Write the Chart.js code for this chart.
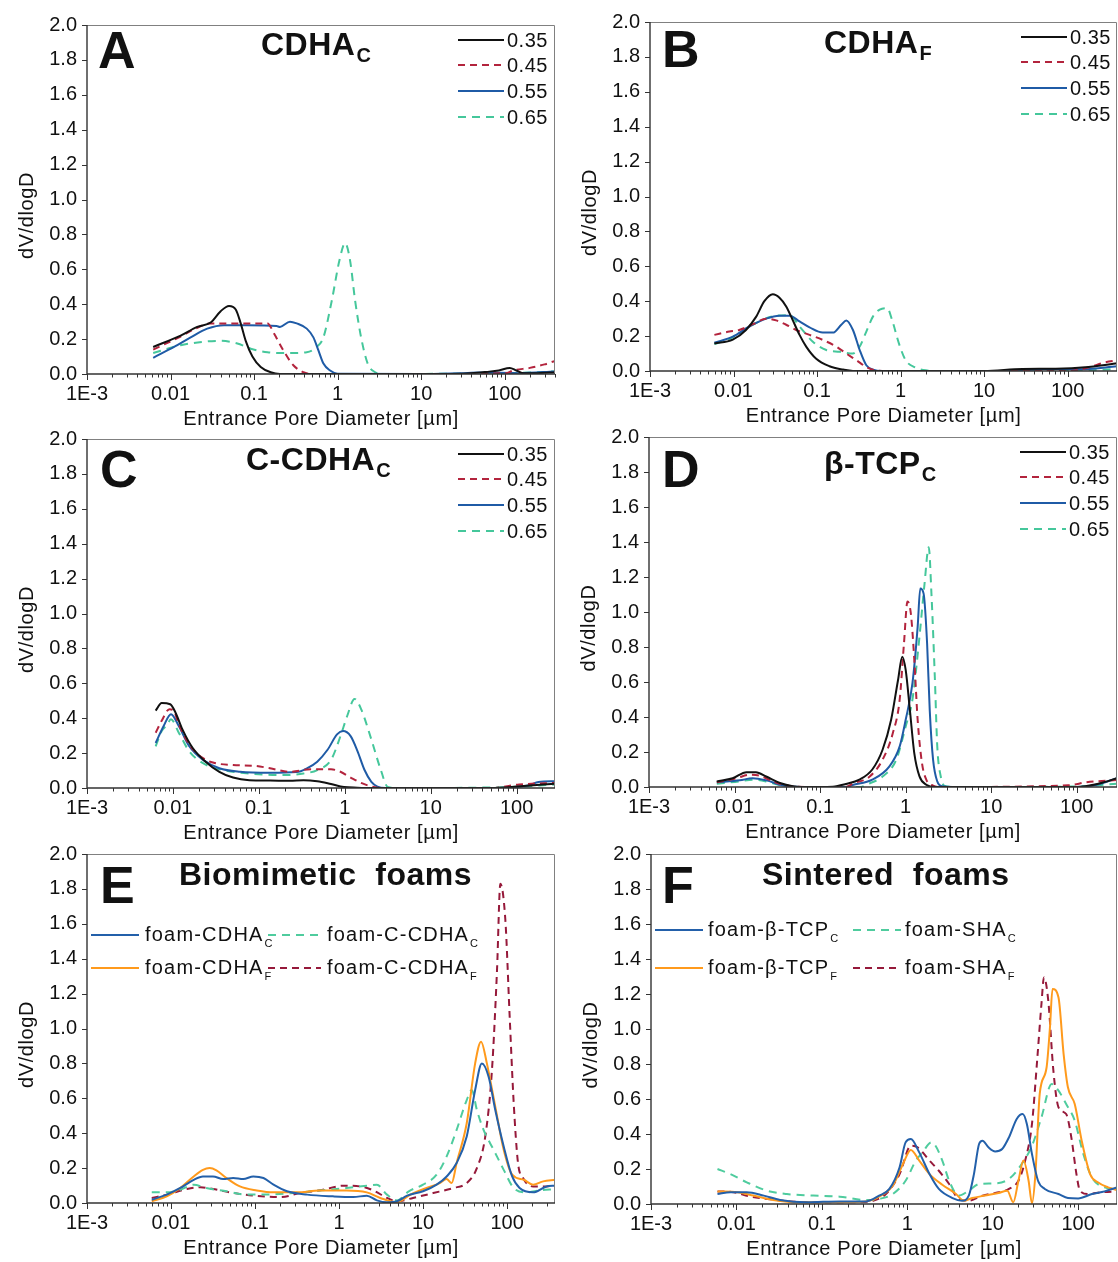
<!DOCTYPE html>
<html>
<head>
<meta charset="utf-8">
<script src="https://cdn.jsdelivr.net/npm/chart.js@4.4.1/dist/chart.umd.min.js"></script>
<style>
  body { margin: 0; background: #fff; }
  #wrap { position: relative; width: 1118px; height: 1262px; overflow: hidden; background: #fff; }
  #wrap canvas { position: absolute; }
</style>
</head>
<body>
<div id="wrap"></div>
<script>
// x axis: entrance pore diameter (um), log scale
const xTicks = [0.001, 0.01, 0.1, 1, 10, 100];
const xTickLabels = ['1E-3', '0.01', '0.1', '1', '10', '100'];
const yTicks = [0, 0.2, 0.4, 0.6, 0.8, 1.0, 1.2, 1.4, 1.6, 1.8, 2.0];

// liquid to powder ratios (panels A-D)
const ratioLabels = ['0.35', '0.45', '0.55', '0.65'];

// [diameter, dV/dlogD]
// A - CDHA_C
const a035 = [[0.0062,0.155],[0.0132,0.22],[0.0209,0.27],[0.0302,0.295],[0.0398,0.36],[0.0501,0.39],[0.0603,0.37],[0.0692,0.29],[0.0794,0.19],[0.0955,0.10],[0.12,0.04],[0.158,0.01],[0.204,0],[1,0],[10,0],[40,0.005],[60,0.012],[85,0.02],[115,0.035],[138,0.02],[170,0.004],[250,0.005],[400,0.01]];
const a045 = [[0.0062,0.14],[0.0132,0.215],[0.0209,0.265],[0.0302,0.29],[0.0417,0.29],[0.0603,0.29],[0.0955,0.29],[0.145,0.29],[0.174,0.23],[0.224,0.135],[0.295,0.05],[0.389,0.01],[0.5,0],[10,0],[105,0.005],[126,0.02],[200,0.035],[300,0.055],[400,0.075]];
const a055 = [[0.0062,0.093],[0.011,0.155],[0.0174,0.21],[0.0275,0.26],[0.0437,0.28],[0.0832,0.28],[0.186,0.275],[0.204,0.27],[0.269,0.30],[0.324,0.29],[0.427,0.26],[0.513,0.21],[0.589,0.135],[0.676,0.06],[0.813,0.02],[1.0,0.002],[10,0],[30,0.005],[50,0.008],[150,0.005],[400,0.015]];
const a065 = [[0.0062,0.12],[0.0132,0.165],[0.0251,0.185],[0.0398,0.19],[0.0631,0.175],[0.0912,0.145],[0.145,0.125],[0.245,0.12],[0.427,0.125],[0.562,0.155],[0.676,0.21],[0.851,0.42],[1.05,0.65],[1.23,0.75],[1.41,0.65],[1.62,0.42],[1.91,0.21],[2.29,0.06],[2.82,0.01],[3.5,0],[50,0.003],[200,0.008],[400,0.015]];

// B - CDHA_F
const b035 = [[0.0059,0.158],[0.0098,0.18],[0.0141,0.235],[0.0186,0.31],[0.0234,0.40],[0.0295,0.44],[0.0355,0.42],[0.0427,0.37],[0.0513,0.29],[0.0617,0.207],[0.0741,0.14],[0.0977,0.07],[0.141,0.027],[0.204,0.008],[0.269,0],[10,0],[28.8,0.012],[72,0.013],[178,0.023],[339,0.04],[390,0.045]];
const b045 = [[0.0059,0.207],[0.0089,0.226],[0.0117,0.235],[0.0174,0.27],[0.0245,0.30],[0.0324,0.29],[0.0427,0.265],[0.0562,0.235],[0.0813,0.207],[0.117,0.178],[0.17,0.14],[0.224,0.10],[0.295,0.062],[0.389,0.023],[0.5,0.004],[0.7,0],[100,0],[178,0.02],[282,0.05],[390,0.06]];
const b055 = [[0.0059,0.162],[0.0098,0.197],[0.0155,0.255],[0.0245,0.30],[0.0355,0.317],[0.0468,0.317],[0.0617,0.284],[0.0813,0.25],[0.117,0.22],[0.155,0.22],[0.195,0.265],[0.224,0.29],[0.269,0.235],[0.324,0.12],[0.389,0.033],[0.468,0.008],[0.6,0],[20,0],[60,0.012],[150,0.01],[390,0.027]];
const b065 = [[0.0059,0.155],[0.0098,0.193],[0.017,0.265],[0.0295,0.313],[0.0468,0.32],[0.0617,0.255],[0.0891,0.168],[0.129,0.12],[0.186,0.11],[0.269,0.10],[0.324,0.14],[0.389,0.226],[0.468,0.313],[0.562,0.352],[0.692,0.36],[0.794,0.29],[0.955,0.158],[1.15,0.062],[1.51,0.02],[2.0,0.004],[3,0],[100,0],[390,0.012]];

// C - C-CDHA_C
const c035 = [[0.0063,0.443],[0.0074,0.487],[0.0093,0.48],[0.0107,0.433],[0.0129,0.336],[0.017,0.229],[0.024,0.151],[0.0347,0.093],[0.0501,0.06],[0.0776,0.045],[0.135,0.043],[0.229,0.041],[0.331,0.045],[0.479,0.039],[0.692,0.023],[0.977,0.006],[1.4,0.002],[2,0],[50,0],[110,0.01],[280,0.025]];
const c045 = [[0.0063,0.317],[0.0074,0.385],[0.0091,0.452],[0.0102,0.443],[0.0117,0.365],[0.0155,0.249],[0.0224,0.171],[0.0316,0.142],[0.0501,0.132],[0.0933,0.126],[0.135,0.113],[0.229,0.093],[0.398,0.107],[0.692,0.107],[0.891,0.093],[1.17,0.06],[1.55,0.029],[2.0,0.01],[2.6,0],[50,0],[107,0.02],[280,0.029]];
const c055 = [[0.0063,0.258],[0.0078,0.355],[0.0095,0.423],[0.0117,0.355],[0.0155,0.239],[0.0224,0.161],[0.0347,0.113],[0.0603,0.093],[0.135,0.087],[0.275,0.091],[0.363,0.113],[0.479,0.151],[0.631,0.219],[0.813,0.307],[0.955,0.326],[1.17,0.297],[1.41,0.21],[1.70,0.103],[2.04,0.035],[2.40,0.008],[3,0],[60,0],[140,0.016],[180,0.035],[280,0.039]];
const c065 = [[0.0063,0.239],[0.0074,0.326],[0.0085,0.36],[0.0095,0.394],[0.0117,0.317],[0.0155,0.21],[0.0224,0.142],[0.038,0.103],[0.0776,0.083],[0.195,0.074],[0.331,0.083],[0.479,0.103],[0.692,0.161],[0.891,0.297],[1.07,0.414],[1.30,0.51],[1.55,0.452],[2.04,0.278],[2.63,0.103],[3.16,0.006],[4,0],[80,0.005],[280,0.02]];

// D - beta-TCP_C
const d035 = [[0.0062,0.032],[0.0095,0.05],[0.0138,0.085],[0.0178,0.085],[0.0234,0.06],[0.0339,0.023],[0.0479,0.004],[0.06,0],[0.141,0.002],[0.2,0.017],[0.288,0.042],[0.407,0.10],[0.537,0.213],[0.676,0.384],[0.813,0.61],[0.912,0.745],[1.0,0.669],[1.12,0.44],[1.26,0.194],[1.45,0.061],[1.74,0.013],[2.2,0],[100,0],[182,0.02],[295,0.05]];
const d045 = [[0.0062,0.027],[0.0105,0.05],[0.0151,0.07],[0.0195,0.065],[0.0282,0.032],[0.0437,0.006],[0.07,0],[0.2,0],[0.24,0.019],[0.38,0.06],[0.537,0.156],[0.708,0.308],[0.851,0.50],[0.955,0.82],[1.05,1.06],[1.15,0.99],[1.26,0.73],[1.38,0.384],[1.55,0.137],[1.74,0.042],[2.09,0.008],[2.6,0],[80,0.01],[130,0.027],[295,0.04]];
const d055 = [[0.0062,0.027],[0.0115,0.038],[0.0162,0.05],[0.0234,0.038],[0.0363,0.01],[0.06,0],[0.2,0],[0.24,0.011],[0.407,0.042],[0.646,0.118],[0.851,0.232],[1.0,0.384],[1.20,0.593],[1.38,0.915],[1.48,1.134],[1.62,1.105],[1.78,0.82],[1.91,0.44],[2.09,0.156],[2.34,0.032],[2.69,0.004],[3.5,0],[100,0],[170,0.013],[295,0.05]];
const d065 = [[0.0062,0.019],[0.0115,0.032],[0.0162,0.042],[0.0234,0.032],[0.0363,0.008],[0.06,0],[0.3,0],[0.347,0.013],[0.537,0.06],[0.776,0.156],[1.0,0.346],[1.20,0.50],[1.45,0.86],[1.66,1.16],[1.86,1.37],[2.0,1.105],[2.19,0.63],[2.34,0.232],[2.57,0.06],[2.82,0.008],[4,0],[100,0.003],[295,0.019]];

// E - biomimetic foams
const foamLabelsE = ['foam-CDHA', 'foam-CDHA', 'foam-C-CDHA', 'foam-C-CDHA'];
const foamSubsE = ['C', 'F', 'C', 'F'];
const eCdhaC = [[0.0059,0.019],[0.0089,0.048],[0.0129,0.086],[0.0186,0.133],[0.024,0.152],[0.0316,0.152],[0.0417,0.137],[0.055,0.143],[0.0724,0.137],[0.0955,0.152],[0.126,0.143],[0.166,0.105],[0.24,0.067],[0.417,0.048],[0.851,0.038],[1.48,0.034],[2.14,0.042],[2.82,0.015],[3.72,0.004],[4.9,0.01],[6.46,0.042],[10,0.067],[14.5,0.105],[19.1,0.152],[25.1,0.229],[33.1,0.381],[41.7,0.648],[50.1,0.80],[60.3,0.724],[72.4,0.533],[91.2,0.324],[115,0.152],[141,0.086],[204,0.061],[295,0.095],[372,0.099]];
const eCdhaF = [[0.0059,0.01],[0.0089,0.038],[0.0129,0.086],[0.0186,0.152],[0.024,0.19],[0.0288,0.20],[0.0347,0.187],[0.0457,0.143],[0.0661,0.095],[0.105,0.072],[0.166,0.061],[0.316,0.061],[0.589,0.072],[1.23,0.072],[2.14,0.061],[3.09,0.029],[4.9,0.004],[7.08,0.048],[11,0.086],[15.8,0.114],[19.1,0.137],[21.9,0.114],[25.1,0.229],[33.1,0.457],[41.7,0.80],[49,0.924],[57.5,0.80],[72.4,0.552],[91.2,0.305],[115,0.162],[158,0.133],[204,0.105],[269,0.124],[372,0.133]];
const eCCdhaC = [[0.0059,0.061],[0.0089,0.061],[0.0129,0.076],[0.0186,0.105],[0.0263,0.086],[0.0457,0.067],[0.0794,0.048],[0.135,0.048],[0.288,0.057],[0.589,0.072],[1.23,0.086],[2.14,0.099],[2.82,0.105],[3.72,0.048],[4.9,0.015],[6.76,0.067],[10,0.105],[14.5,0.162],[19.1,0.267],[25.1,0.419],[33.1,0.59],[38,0.648],[43.7,0.533],[52.5,0.419],[69.2,0.305],[91.2,0.19],[120,0.086],[170,0.061],[245,0.072],[372,0.08]];
const eCCdhaF = [[0.0059,0.029],[0.0089,0.048],[0.0155,0.08],[0.0224,0.09],[0.0316,0.08],[0.0501,0.061],[0.0955,0.042],[0.2,0.034],[0.347,0.057],[0.646,0.076],[1.12,0.099],[1.78,0.095],[2.57,0.072],[3.72,0.029],[4.9,0.01],[7.59,0.029],[13.2,0.057],[22.9,0.086],[33.1,0.114],[43.7,0.20],[55,0.381],[66.1,0.762],[75.9,1.333],[83.2,1.829],[95.5,1.619],[107,1.086],[120,0.571],[135,0.229],[155,0.143],[204,0.095],[295,0.095],[372,0.105]];

// F - sintered foams
const foamLabelsF = ['foam-\u03B2-TCP', 'foam-\u03B2-TCP', 'foam-SHA', 'foam-SHA'];
const foamSubsF = ['C', 'F', 'C', 'F'];
const fTcpC = [[0.006,0.057],[0.0085,0.067],[0.0132,0.067],[0.0209,0.048],[0.0324,0.023],[0.0661,0.01],[0.162,0.015],[0.331,0.015],[0.468,0.048],[0.617,0.086],[0.813,0.21],[0.955,0.352],[1.10,0.371],[1.38,0.295],[1.82,0.171],[2.34,0.086],[3.39,0.034],[4.37,0.019],[5.25,0.048],[6.03,0.171],[6.92,0.343],[7.59,0.362],[8.91,0.324],[10.7,0.30],[12.9,0.314],[15.5,0.381],[19.1,0.486],[22.4,0.514],[25.1,0.457],[28.8,0.286],[33.9,0.133],[40.7,0.086],[58.9,0.057],[75.9,0.034],[100,0.032],[145,0.057],[204,0.072],[285,0.095]];
const fTcpF = [[0.006,0.072],[0.0102,0.067],[0.0158,0.048],[0.0269,0.023],[0.055,0.01],[0.162,0.01],[0.331,0.015],[0.468,0.042],[0.676,0.105],[0.891,0.229],[1.10,0.309],[1.38,0.248],[1.82,0.171],[2.57,0.11],[3.72,0.057],[4.57,0.019],[5.75,0.034],[8.13,0.048],[11.7,0.063],[14.8,0.076],[17.4,0.01],[20,0.133],[22.9,0.248],[26.3,0.133],[28.8,0.004],[31.6,0.171],[35.5,0.629],[42.7,0.78],[46.8,1.01],[50.1,1.229],[58.9,1.18],[67.6,0.857],[75.9,0.667],[91.2,0.571],[110,0.362],[138,0.171],[170,0.124],[224,0.095],[285,0.08]];
const fShaC = [[0.006,0.20],[0.0085,0.171],[0.0132,0.124],[0.0229,0.076],[0.0389,0.057],[0.0794,0.048],[0.162,0.042],[0.331,0.023],[0.468,0.029],[0.676,0.057],[0.955,0.133],[1.26,0.248],[1.51,0.295],[1.91,0.352],[2.14,0.333],[2.57,0.248],[3.09,0.133],[3.98,0.048],[5.25,0.076],[6.92,0.114],[10.7,0.118],[15.5,0.143],[21.9,0.229],[28.8,0.333],[37.2,0.495],[49,0.686],[58.9,0.648],[72.4,0.571],[91.2,0.476],[115,0.286],[145,0.152],[204,0.095],[285,0.086]];
const fShaF = [[0.006,0.072],[0.0093,0.067],[0.0145,0.042],[0.0229,0.029],[0.0427,0.015],[0.105,0.01],[0.251,0.01],[0.398,0.019],[0.562,0.057],[0.813,0.171],[1.10,0.333],[1.32,0.324],[1.82,0.248],[2.34,0.19],[3.09,0.114],[3.98,0.029],[5.25,0.019],[7.59,0.048],[11.7,0.067],[15.5,0.086],[20,0.133],[24,0.248],[28.8,0.457],[33.1,0.819],[37.2,1.143],[39.8,1.295],[44.7,1.162],[51.3,0.762],[58.9,0.552],[72.4,0.514],[83.2,0.381],[95.5,0.171],[105,0.076],[132,0.057],[186,0.067],[285,0.072]];

const FONT = '"Liberation Sans", Arial, Helvetica, sans-serif';

// line styles
const ratioStyles = [
  { color: '#111111', dash: [] },
  { color: '#b3243d', dash: [7, 5] },
  { color: '#1f5ba6', dash: [] },
  { color: '#45c79b', dash: [8, 6] }
];
const foamStyles = [
  { color: '#2360aa', dash: [] },     // coarse, solid blue
  { color: '#ff9a1c', dash: [] },     // fine, solid orange
  { color: '#4fcc9e', dash: [8, 6] }, // green dashed
  { color: '#96193a', dash: [7, 5] }  // maroon dashed
];

// layout of each panel on the page (chart area is set through axis sizes)
const panels = [
  { letter: 'A', title: 'CDHA', sub: 'C', left: 0, top: 0, w: 559, h: 430, yAxisW: 87, padTop: 25, padRight: 4, xAxisH: 56, xMax: 400,
    titleX: 174, titleY: 30, letterX: 11, letterY: 43, series: [a035, a045, a055, a065] },
  { letter: 'B', title: 'CDHA', sub: 'F', left: 559, top: 0, w: 559, h: 430, yAxisW: 91, padTop: 22, padRight: 1, xAxisH: 59, xMax: 390,
    titleX: 174, titleY: 31, letterX: 12, letterY: 45, series: [b035, b045, b055, b065] },
  { letter: 'C', title: 'C-CDHA', sub: 'C', left: 0, top: 428, w: 559, h: 420, yAxisW: 87, padTop: 11, padRight: 4, xAxisH: 60, xMax: 280,
    titleX: 159, titleY: 31, letterX: 13, letterY: 48, series: [c035, c045, c055, c065] },
  { letter: 'D', title: '\u03B2-TCP', sub: 'C', left: 559, top: 428, w: 559, h: 420, yAxisW: 90, padTop: 9, padRight: 1, xAxisH: 61, xMax: 295,
    titleX: 175, titleY: 37, letterX: 13, letterY: 50, series: [d035, d045, d055, d065] },
  { letter: 'E', title: 'Biomimetic  foams', sub: '', left: 0, top: 846, w: 559, h: 416, yAxisW: 87, padTop: 8, padRight: 4, xAxisH: 59, xMax: 372,
    titleX: 92, titleY: 31, letterX: 13, letterY: 49, foam: true,
    series: [eCdhaC, eCdhaF, eCCdhaC, eCCdhaF], labels: foamLabelsE, subs: foamSubsE,
    rows: [81, 114], cols: [[4, 52, 58], [181, 234, 240]] },
  { letter: 'F', title: 'Sintered  foams', sub: '', left: 559, top: 846, w: 559, h: 416, yAxisW: 92, padTop: 8, padRight: 1, xAxisH: 58, xMax: 285,
    titleX: 111, titleY: 31, letterX: 11, letterY: 49, foam: true,
    series: [fTcpC, fTcpF, fShaC, fShaF], labels: foamLabelsF, subs: foamSubsF,
    rows: [76, 114], cols: [[4, 52, 57], [202, 250, 254]] }
];

function richText(ctx, x, y, main, sub, size, bold, subSize, subDy) {
  const b = bold ? 'bold ' : '';
  ctx.font = b + size + 'px ' + FONT;
  ctx.fillText(main, x, y);
  if (sub) {
    const w = ctx.measureText(main).width;
    ctx.font = b + subSize + 'px ' + FONT;
    ctx.fillText(sub, x + w + 1, y + subDy);
  }
}

function sampleLine(ctx, x1, x2, y, ds) {
  ctx.save();
  ctx.strokeStyle = ds.borderColor;
  ctx.lineWidth = 2;
  ctx.setLineDash(ds.borderDash || []);
  ctx.beginPath();
  ctx.moveTo(x1, y);
  ctx.lineTo(x2, y);
  ctx.stroke();
  ctx.restore();
}

function makeDecor(p) {
  return {
    id: 'panelDecor' + p.letter,
    afterDatasetsDraw(chart) {
      const { ctx, chartArea: ca, scales: { x, y } } = chart;
      ctx.save();

      // frame
      ctx.setLineDash([]);
      ctx.strokeStyle = '#808080';
      ctx.lineWidth = 1;
      ctx.beginPath();
      ctx.moveTo(ca.left, ca.top + 0.5);
      ctx.lineTo(ca.right - 0.5, ca.top + 0.5);
      ctx.lineTo(ca.right - 0.5, ca.bottom);
      ctx.stroke();
      ctx.strokeStyle = '#333';
      ctx.lineWidth = 1.4;
      ctx.beginPath();
      ctx.moveTo(ca.left, ca.top);
      ctx.lineTo(ca.left, ca.bottom);
      ctx.lineTo(ca.right, ca.bottom);
      ctx.stroke();

      // x ticks, major and minor
      ctx.lineWidth = 1;
      ctx.beginPath();
      for (let e = -3; e <= 2; e++) {
        for (let k = 1; k <= 9; k++) {
          const v = k * Math.pow(10, e);
          if (v > x.max * 1.0001) break;
          const px = Math.round(x.getPixelForValue(v)) + 0.5;
          const len = k === 1 ? 6 : 3.5;
          ctx.moveTo(px, ca.bottom);
          ctx.lineTo(px, ca.bottom + len);
        }
      }
      // y ticks
      y.ticks.forEach(t => {
        const py = Math.round(y.getPixelForValue(t.value)) + 0.5;
        ctx.moveTo(ca.left - 5, py);
        ctx.lineTo(ca.left, py);
      });
      ctx.stroke();

      ctx.fillStyle = '#111';
      ctx.textBaseline = 'alphabetic';
      ctx.textAlign = 'left';

      // panel letter and title
      ctx.font = 'bold 52px ' + FONT;
      ctx.fillText(p.letter, ca.left + p.letterX, ca.top + p.letterY);
      ctx.letterSpacing = '0.5px';
      richText(ctx, ca.left + p.titleX, ca.top + p.titleY, p.title, p.sub, 32, true, 20, 7);

      // legend
      const dsets = chart.data.datasets;
      if (!p.foam) {
        const rows = [15, 40, 66, 92];
        ctx.textBaseline = 'middle';
        ctx.letterSpacing = '0.5px';
        ctx.font = '20px ' + FONT;
        dsets.forEach((ds, i) => {
          const ly = ca.top + rows[i];
          sampleLine(ctx, ca.left + 371, ca.left + 417, ly, ds);
          ctx.fillStyle = '#111';
          ctx.fillText(ds.label, ca.left + 420, ly + 1);
        });
      } else {
        ctx.textBaseline = 'middle';
        ctx.letterSpacing = '1.2px';
        dsets.forEach((ds, i) => {
          const col = p.cols[i < 2 ? 0 : 1];
          const ly = ca.top + p.rows[i % 2];
          sampleLine(ctx, ca.left + col[0], ca.left + col[1], ly, ds);
          ctx.fillStyle = '#111';
          richText(ctx, ca.left + col[2], ly, p.labels[i], p.subs[i], 20, false, 11, 9);
        });
      }

      // axis titles
      ctx.fillStyle = '#111';
      ctx.font = '20px ' + FONT;
      ctx.letterSpacing = '0.6px';
      ctx.textAlign = 'center';
      ctx.textBaseline = 'middle';
      ctx.fillText('Entrance Pore Diameter [\u00B5m]', (ca.left + ca.right) / 2, ca.bottom + 45);
      ctx.save();
      ctx.translate(ca.left - 60, (ca.top + ca.bottom) / 2 + 16);
      ctx.rotate(-Math.PI / 2);
      ctx.fillText('dV/dlogD', 0, 0);
      ctx.restore();
      ctx.letterSpacing = '0px';

      ctx.restore();
    }
  };
}

const wrap = document.getElementById('wrap');

panels.forEach(p => {
  const canvas = document.createElement('canvas');
  canvas.width = p.w;
  canvas.height = p.h;
  canvas.style.left = p.left + 'px';
  canvas.style.top = p.top + 'px';
  canvas.style.width = p.w + 'px';
  canvas.style.height = p.h + 'px';
  wrap.appendChild(canvas);

  const styles = p.foam ? foamStyles : ratioStyles;
  const datasets = p.series.map((s, i) => ({
    label: p.foam ? p.labels[i] + p.subs[i] : ratioLabels[i],
    data: s.map(pt => ({ x: pt[0], y: pt[1] })),
    borderColor: styles[i].color,
    borderDash: styles[i].dash,
    borderWidth: 2,
    pointRadius: 0,
    fill: false,
    cubicInterpolationMode: 'monotone'
  }));

  new Chart(canvas, {
    type: 'line',
    data: { datasets },
    options: {
      responsive: false,
      animation: false,
      devicePixelRatio: 1,
      layout: { padding: { top: p.padTop, right: p.padRight, left: 0, bottom: 0 } },
      plugins: { legend: { display: false }, tooltip: { enabled: false } },
      scales: {
        x: {
          type: 'logarithmic',
          min: 0.001,
          max: p.xMax,
          afterBuildTicks: s => { s.ticks = xTicks.map(v => ({ value: v })); },
          afterFit: s => { s.height = p.xAxisH; s.paddingLeft = 0; s.paddingRight = 0; },
          grid: { display: false, drawTicks: false },
          border: { display: false },
          ticks: {
            autoSkip: false,
            maxRotation: 0,
            padding: 8,
            color: '#111',
            font: { family: FONT, size: 20 },
            callback: v => {
              const i = xTicks.findIndex(t => Math.abs(t - v) < t * 1e-6);
              return i >= 0 ? xTickLabels[i] : '';
            }
          }
        },
        y: {
          type: 'linear',
          min: 0,
          max: 2,
          afterBuildTicks: s => { s.ticks = yTicks.map(v => ({ value: v })); },
          afterFit: s => { s.width = p.yAxisW; s.paddingTop = 0; s.paddingBottom = 0; },
          grid: { display: false, drawTicks: false },
          border: { display: false },
          ticks: {
            padding: 10,
            color: '#111',
            font: { family: FONT, size: 20 },
            callback: v => Number(v).toFixed(1)
          }
        }
      }
    },
    plugins: [makeDecor(p)]
  });
});
</script>
</body>
</html>
